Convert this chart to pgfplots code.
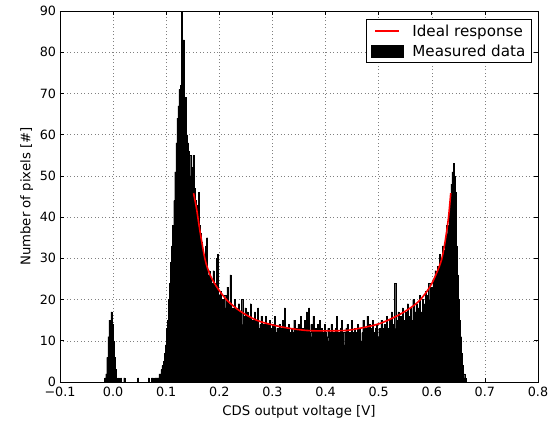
\documentclass[border=0pt]{standalone}
\usepackage{fontspec}
\setmainfont{DejaVu Sans}
\usepackage{pgfplots}
\usepackage{pgfplotstable}
\pgfplotsset{compat=1.18}

% ideal response
\pgfplotstableread{
X Y
0.1515 45.8
0.1570 42.1
0.1637 36.5
0.1730 29.8
0.1825 26.0
0.1950 23.1
0.2140 19.9
0.2390 17.2
0.2700 15.0
0.3017 13.8
0.3330 13.0
0.3646 12.5
0.3959 12.4
0.4270 12.45
0.4400 12.5
0.4712 13.2
0.5026 14.2
0.5340 16.0
0.5590 17.9
0.5780 19.9
0.5966 23.1
0.6090 26.4
0.6187 29.8
0.6250 34.0
0.6313 39.7
0.6357 45.8
}\ideal

% measured histogram, bin left edge and count
\pgfplotstableread{
X Y
-0.016 1
-0.014 2
-0.012 6
-0.010 11
-0.008 15
-0.006 15
-0.004 17
-0.002 14
0.000 10
0.002 6
0.004 3
0.006 1
0.008 0
0.010 1
0.012 0
0.014 1
0.016 0
0.020 1
0.022 0
0.046 1
0.048 0
0.066 1
0.068 0
0.072 1
0.074 1
0.076 0
0.078 1
0.080 1
0.082 1
0.084 1
0.086 2
0.088 2
0.090 3
0.092 4
0.094 5
0.096 7
0.098 9
0.100 13
0.102 15
0.104 20
0.106 24
0.108 29
0.110 33
0.112 38
0.114 44
0.116 51
0.118 58
0.120 64
0.122 67
0.124 71
0.126 72
0.128 90
0.130 68
0.132 83
0.134 66
0.136 69
0.138 60
0.140 58
0.142 56
0.144 55
0.146 50
0.148 52
0.150 55
0.152 47
0.154 44
0.156 43
0.158 40
0.160 46
0.162 38
0.164 36
0.166 34
0.168 31
0.170 30
0.172 28
0.174 33
0.176 35
0.178 26
0.180 27
0.182 25
0.184 24
0.186 22
0.188 27
0.190 24
0.192 23
0.194 30
0.196 31
0.198 21
0.200 20
0.202 22
0.204 19
0.206 20
0.208 17
0.210 21
0.212 18
0.214 23
0.216 17
0.218 19
0.220 26
0.222 16
0.224 18
0.226 17
0.228 20
0.230 15
0.232 18
0.234 16
0.236 19
0.238 15
0.240 17
0.242 20
0.244 14
0.246 16
0.248 18
0.250 15
0.252 17
0.254 14
0.256 16
0.258 19
0.260 14
0.262 15
0.264 13
0.266 17
0.268 14
0.270 15
0.272 18
0.274 13
0.276 14
0.278 16
0.280 12
0.282 14
0.284 13
0.286 16
0.288 12
0.290 14
0.292 13
0.294 15
0.296 11
0.298 13
0.300 14
0.302 12
0.304 16
0.306 12
0.308 13
0.310 11
0.312 14
0.314 12
0.316 13
0.318 15
0.320 11
0.322 18
0.324 12
0.326 13
0.328 11
0.330 14
0.332 12
0.334 10
0.336 13
0.338 12
0.340 15
0.342 11
0.344 13
0.346 12
0.348 14
0.350 11
0.352 16
0.354 12
0.356 13
0.358 10
0.360 15
0.362 12
0.364 17
0.366 13
0.368 18
0.370 12
0.372 14
0.374 11
0.376 16
0.378 12
0.380 13
0.382 10
0.384 14
0.386 12
0.388 15
0.390 11
0.392 13
0.394 12
0.396 10
0.398 14
0.400 12
0.402 11
0.404 13
0.406 10
0.408 12
0.410 14
0.412 11
0.414 12
0.416 10
0.418 13
0.420 16
0.422 11
0.424 12
0.426 10
0.428 13
0.430 15
0.432 11
0.434 12
0.436 9
0.438 13
0.440 14
0.442 11
0.444 12
0.446 10
0.448 15
0.450 12
0.452 11
0.454 13
0.456 10
0.458 12
0.460 14
0.462 11
0.464 13
0.466 10
0.468 12
0.470 15
0.472 11
0.474 13
0.476 12
0.478 16
0.480 12
0.482 14
0.484 11
0.486 13
0.488 15
0.490 12
0.492 10
0.494 13
0.496 14
0.498 11
0.500 13
0.502 12
0.504 15
0.506 11
0.508 13
0.510 14
0.512 12
0.514 16
0.516 13
0.518 12
0.520 15
0.522 13
0.524 17
0.526 12
0.528 14
0.530 24
0.532 13
0.534 15
0.536 17
0.538 13
0.540 16
0.542 14
0.544 18
0.546 15
0.548 13
0.550 17
0.552 15
0.554 19
0.556 14
0.558 16
0.560 18
0.562 15
0.564 20
0.566 16
0.568 17
0.570 19
0.572 15
0.574 18
0.576 21
0.578 16
0.580 17
0.582 20
0.584 15
0.586 19
0.588 22
0.590 18
0.592 21
0.594 24
0.596 20
0.598 23
0.600 19
0.602 25
0.604 22
0.606 27
0.608 24
0.610 28
0.612 26
0.614 31
0.616 28
0.618 30
0.620 33
0.622 32
0.624 29
0.626 34
0.628 38
0.630 36
0.632 41
0.634 44
0.636 48
0.638 51
0.640 53
0.642 50
0.644 46
0.646 33
0.648 26
0.650 20
0.652 15
0.654 11
0.656 7
0.658 4
0.660 2
0.662 1
0.664 0
}\measured

\pgfplotsset{
  redline/.style={legend image code/.code={
    \draw[red, line width=1.6bp] (4bp,0bp) -- (28bp,0bp);}},
  blackbox/.style={legend image code/.code={
    \fill[black] (0bp,-6bp) rectangle (32bp,6bp);}},
}

\begin{document}
\begin{tikzpicture}
\path[use as bounding box] (-60bp,-44bp) rectangle (493bp,382bp);
\begin{axis}[
  at={(0,0)}, anchor=south west,
  scale only axis,
  width=478bp, height=371bp,
  xmin=-0.1, xmax=0.8, ymin=0, ymax=90,
  xtick={-0.1,0,0.1,0.2,0.3,0.4,0.5,0.6,0.7,0.8},
  xticklabels={−0.1,0.0,0.1,0.2,0.3,0.4,0.5,0.6,0.7,0.8},
  ytick={0,10,...,90},
  /pgf/number format/assume math mode=true,
  tick label style={font=\fontsize{12.8}{14}\selectfont},
  xticklabel style={yshift=-2bp},
  yticklabel style={xshift=-0.5bp},
  xlabel={CDS output voltage [V]},
  ylabel={Number of pixels [\#]},
  every axis x label/.style={at={(axis description cs:0.5,0)}, anchor=center,
    yshift=-30bp, font=\fontsize{13.3}{15}\selectfont},
  every axis y label/.style={at={(axis description cs:-0.0697,0.5)}, anchor=center,
    rotate=90, font=\fontsize{13.3}{15}\selectfont},
  grid=major,
  grid style={gray, line width=0.5bp, dash pattern=on 1bp off 2.5bp},
  axis line style={black, line width=0.8bp},
  major tick length=4bp,
  tick style={black, line width=0.6bp},
  tick align=inside,
  legend cell align=left,
  legend style={at={(1,1)}, anchor=north east, xshift=-6.3bp, yshift=-8.3bp,
    draw=black, line width=0.8bp,
    font=\fontsize{15.2}{17}\selectfont,
    inner xsep=4bp, inner ysep=3bp, row sep=3bp,
    /tikz/every odd column/.append style={column sep=7bp}},
]
\addlegendimage{redline}
\addlegendentry{Ideal response}
\addlegendimage{blackbox}
\addlegendentry{Measured data}

\addplot[const plot, fill=black, draw=black, line width=0.3bp, forget plot]
  table[x=X, y=Y] {\measured} \closedcycle;
\addplot[red, line width=1.6bp, smooth, forget plot]
  table[x=X, y=Y] {\ideal};
\end{axis}
\end{tikzpicture}
\end{document}
